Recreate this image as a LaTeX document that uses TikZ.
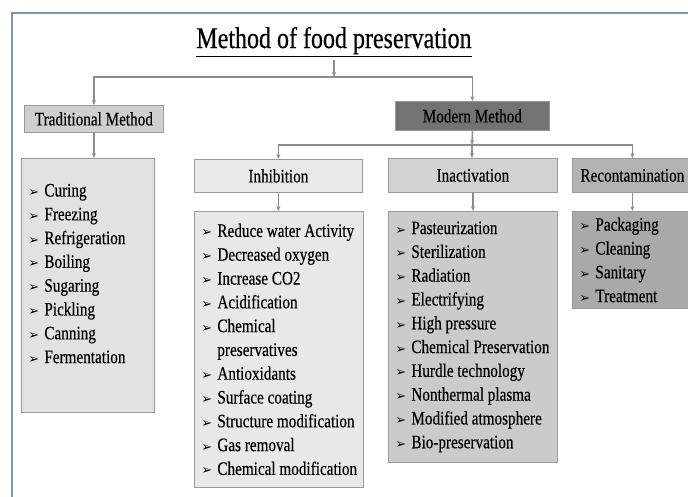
\documentclass[tikz,border=0pt]{standalone}
\usepackage{fontspec}
\setmainfont{Liberation Serif}[FakeStretch=0.8, FakeBold=0.4]
\newfontfamily\arrowfont{DejaVu Sans}
\usetikzlibrary{arrows.meta}
\definecolor{framecol}{HTML}{8A90A6}
\definecolor{edgegray}{HTML}{9A9A9A}
\definecolor{linkgray}{HTML}{8C8C8C}
\definecolor{tradhead}{HTML}{CFCFCF}
\definecolor{tradbody}{HTML}{E2E2E2}
\definecolor{modhead}{HTML}{737373}
\definecolor{inhhead}{HTML}{E9E9E9}
\definecolor{inhbody}{HTML}{E8E8E8}
\definecolor{inahead}{HTML}{D2D2D2}
\definecolor{inabody}{HTML}{CBCBCB}
\definecolor{rechead}{HTML}{B3B3B3}
\definecolor{recbody}{HTML}{A9A9A9}
\newcommand\itm[1]{\mbox{\makebox[16pt][l]{\arrowfont\fontsize{13}{13}\selectfont ➢}#1}}

\begin{document}
\begin{tikzpicture}[x=1pt,y=-1pt,
head/.style={draw=edgegray, line width=0.8pt, anchor=north west, inner sep=0pt,
  font=\fontsize{19}{22}\selectfont},
list/.style={draw=edgegray, line width=0.8pt, anchor=north west, inner xsep=7pt,
  inner ysep=0pt, align=flush left, font=\fontsize{19}{23.8}\selectfont},
link/.style={draw=linkgray, line width=1.4pt, -{Stealth[length=5pt,width=4pt]}},
bar/.style={draw=linkgray, line width=1.4pt}]
\useasboundingbox (0,0) rectangle (688,496);
\fill[white] (0,0) rectangle (688,496);
\clip (0,0) rectangle (688,496);
\draw[framecol, line width=2pt] (12,520) -- (12,13) -- (700,13);

\node[anchor=base, font=\fontsize{30}{32}\selectfont] (title) at (334,48)
  {\underline{Method of food preservation}};

\node[head, fill=tradhead, minimum width=139pt, minimum height=27pt] (trad) at (24,105) {Traditional Method};
\node[head, fill=modhead, minimum width=154pt, minimum height=29pt] (modern) at (395,101) {Modern Method};
\node[head, fill=inhhead, minimum width=168pt, minimum height=33pt] (inhib) at (194,159) {Inhibition};
\node[head, fill=inahead, minimum width=169pt, minimum height=34pt] (inact) at (388,158) {Inactivation};
\node[head, fill=rechead, minimum width=120pt, minimum height=34pt] (recon) at (572,158) {Recontamination};

\node[list, fill=tradbody, text width=119pt, minimum height=254pt] (tradlist) at (21,158)
  {\itm{Curing}\\ \itm{Freezing}\\ \itm{Refrigeration}\\ \itm{Boiling}\\
   \itm{Sugaring}\\ \itm{Pickling}\\ \itm{Canning}\\ \itm{Fermentation}\\ \mbox{}};
\node[list, fill=inhbody, text width=155pt, minimum height=276pt] (inhiblist) at (194,211)
  {\itm{Reduce water Activity}\\ \itm{Decreased oxygen}\\ \itm{Increase CO2}\\
   \itm{Acidification}\\ \itm{Chemical}\\ \hspace*{16pt}preservatives\\
   \itm{Antioxidants}\\ \itm{Surface coating}\\ \itm{Structure modification}\\
   \itm{Gas removal}\\ \itm{Chemical modification}};
\node[list, fill=inabody, text width=155pt, minimum height=251pt] (inactlist) at (388,211)
  {\itm{Pasteurization}\\ \itm{Sterilization}\\ \itm{Radiation}\\ \itm{Electrifying}\\
   \itm{High pressure}\\ \itm{Chemical Preservation}\\ \itm{Hurdle technology}\\
   \itm{Nonthermal plasma}\\ \itm{Modified atmosphere}\\ \itm{Bio-preservation}};
\node[list, fill=recbody, text width=106pt, minimum height=97pt] (reconlist) at (572,211)
  {\itm{Packaging}\\ \itm{Cleaning}\\ \itm{Sanitary}\\ \itm{Treatment}};

% branches
\coordinate (fork1) at (334,77);
\coordinate (fork2) at (472,145);
\draw[link] (title.south) -- (fork1);
\draw[bar] (trad.north |- fork1) -- (modern.north |- fork1);
\draw[link] (fork1) -| (trad.north);
\draw[link] (fork1) -| (modern.north);
\draw[link] (modern.south) -- (fork2);
\draw[bar] (inhib.north |- fork2) -- (recon.north |- fork2);
\draw[link] (fork2) -| (inhib.north);
\draw[link] (fork2) -- (fork2 |- inact.north);
\draw[link] (fork2) -| (recon.north);
\draw[link] (trad.south) -- (trad.south |- tradlist.north);
\draw[link] (inhib.south) -- (inhib.south |- inhiblist.north);
\draw[link] (inact.south) -- (inact.south |- inactlist.north);
\draw[link] (recon.south) -- (recon.south |- reconlist.north);
\end{tikzpicture}
\end{document}
